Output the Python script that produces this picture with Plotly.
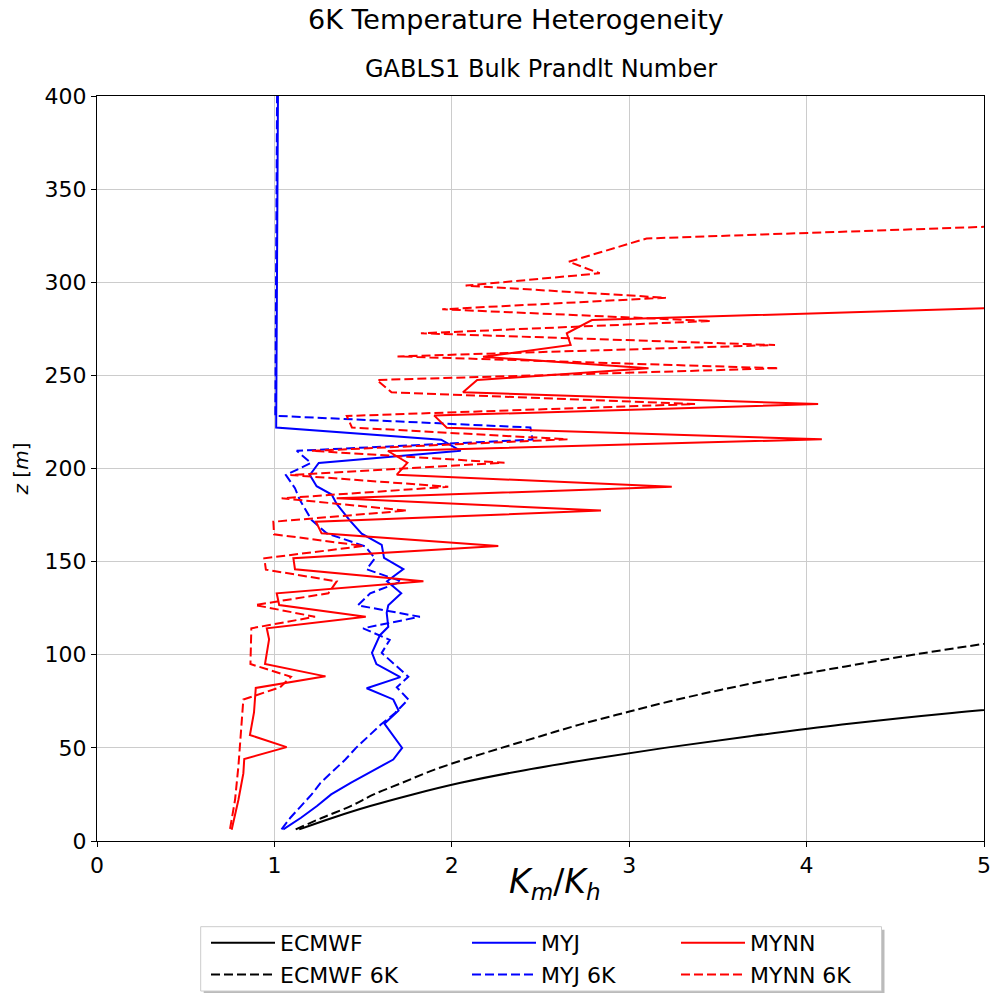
import plotly.graph_objects as go

# ---------------- data ----------------
ecmwf_z = [6.25, 12.5, 18.75, 25, 31.25, 37.5, 43.75, 50, 56.25, 62.5, 68.75, 75]
ecmwf_x = [1.14, 1.33, 1.54, 1.78, 2.05, 2.38, 2.77, 3.2, 3.68, 4.2, 4.82, 5.6]

ecmwf6k_z = [6.25, 12.5, 18.75, 25, 31.25, 37.5, 43.75, 50, 56.25, 62.5, 68.75, 75,
             81.25, 87.5, 93.75, 100, 106.25, 112.5]
ecmwf6k_x = [1.12, 1.27, 1.43, 1.56, 1.72, 1.88, 2.07, 2.28, 2.5, 2.72, 2.97, 3.23,
             3.52, 3.85, 4.22, 4.6, 5.03, 5.5]

myj_z = [6.25, 12.5, 18.75, 25, 31.25, 37.5, 43.75, 50, 63, 70, 76, 82, 88, 95, 101,
         110.5, 115, 122.5, 126.5, 133, 139.5, 146, 152, 159, 162.5, 165, 172, 181,
         186, 190.5, 196.5, 203, 209.5, 215.5, 222, 400]
myj_x = [1.05, 1.15, 1.24, 1.32, 1.43, 1.55, 1.67, 1.72, 1.62, 1.70, 1.67, 1.52, 1.71,
         1.575, 1.55, 1.595, 1.642, 1.633, 1.642, 1.715, 1.635, 1.727, 1.618, 1.605,
         1.539, 1.492, 1.426, 1.351, 1.323, 1.238, 1.2, 1.25, 2.05, 1.94, 1.01, 1.02]

myj6k_z = [6.25, 12.5, 18.75, 25, 31.25, 37.5, 43.75, 50, 56.25, 62.5, 68.75, 76, 82.5,
           88.2, 101, 108, 114.2, 120.4, 126.5, 133, 139.4, 145.9, 151.8, 158.2, 165.2,
           172.3, 183, 189.4, 196.5, 203, 209.5, 215.5, 222, 228.3, 400]
myj6k_x = [1.04, 1.09, 1.15, 1.21, 1.26, 1.33, 1.40, 1.46, 1.53, 1.60, 1.68, 1.755, 1.69,
           1.755, 1.605, 1.65, 1.50, 1.82, 1.47, 1.54, 1.717, 1.52, 1.567, 1.511, 1.295,
           1.21, 1.144, 1.116, 1.065, 1.206, 1.126, 2.455, 2.443, 1.005, 1.015]

mynn_z = [6, 22, 36.3, 44, 50.4, 56.9, 69, 82.2, 88.4, 95, 108.3, 114.2, 120.4, 126.7,
          133, 139.4, 145.9, 151.8, 158.4, 165.2, 171.4, 177.4, 184, 190.2, 196.7, 203.1,
          209.4, 215.7, 221.9, 228.4, 234.6, 240.9, 247.5, 253.8, 260, 266.3, 272.6,
          279.7, 286.2, 292.5]
mynn_x = [0.759, 0.797, 0.825, 0.83, 1.069, 0.862, 0.885, 0.895, 1.288, 0.947, 0.97,
          0.957, 1.515, 1.027, 1.013, 1.84, 1.116, 1.107, 2.262, 1.266, 1.234, 2.841,
          1.351, 3.24, 1.69, 1.75, 1.64, 4.086, 1.972, 1.901, 4.065, 2.063, 2.143, 3.109,
          2.176, 2.67, 2.648, 2.79, 5.05, 9.0]

mynn6k_z = [6.5, 22, 40, 58, 76, 82.5, 88.2, 95, 114.2, 120.4, 126.7, 133, 139.4, 145.7,
            151.8, 158.4, 164.7, 171.4, 177.4, 184, 190.2, 196.5, 203.1, 209.5, 215.7,
            222, 228.2, 234.6, 240.9, 247.5, 253.8, 260.2, 266.3, 272.6, 279.2, 285.5,
            291.7, 298.2, 304.8, 311, 323.5, 329.8, 336]
mynn6k_x = [0.75, 0.778, 0.797, 0.81, 0.825, 1.032, 1.093, 0.865, 0.87, 1.229, 0.891,
            1.304, 1.351, 0.952, 0.943, 1.501, 0.998, 0.994, 1.746, 1.041, 1.98, 1.09,
            2.297, 1.21, 2.652, 1.437, 1.408, 3.371, 1.66, 1.578, 3.843, 1.694, 3.822,
            1.826, 3.459, 1.946, 3.207, 2.078, 2.834, 2.659, 3.098, 5.02, 9.0]

x_ticks = [0, 1, 2, 3, 4, 5]
y_ticks = [0, 50, 100, 150, 200, 250, 300, 350, 400]

# ---------------- figure ----------------
FONT = "DejaVu Sans"
W, H = 992, 993
ML, MR, MT, MB = 97, 8, 96, 152
PW, PH = W - ML - MR, H - MT - MB


def px2paper_x(px):
    return (px - ML) / PW


def px2paper_y(py):
    return (H - MB - py) / PH


DASH = "9px,4px"
series = [
    ("ECMWF", ecmwf_x, ecmwf_z, "black", "solid", "legend", "spline"),
    ("ECMWF 6K", ecmwf6k_x, ecmwf6k_z, "black", DASH, "legend", "spline"),
    ("MYJ", myj_x, myj_z, "blue", "solid", "legend2", "linear"),
    ("MYJ 6K", myj6k_x, myj6k_z, "blue", DASH, "legend2", "linear"),
    ("MYNN", mynn_x, mynn_z, "red", "solid", "legend3", "linear"),
    ("MYNN 6K", mynn6k_x, mynn6k_z, "red", DASH, "legend3", "linear"),
]

fig = go.Figure()
for name, xs, zs, color, dash, leg, shape in series:
    fig.add_trace(go.Scatter(
        x=xs, y=zs, mode="lines", name=name, legend=leg,
        line=dict(color=color, width=2, dash=dash, shape=shape),
    ))

leg_common = dict(
    orientation="v", xanchor="left", yanchor="top",
    bgcolor="rgba(0,0,0,0)", borderwidth=0,
    font=dict(family=FONT, size=22, color="black"),
    itemwidth=64, tracegroupgap=0,
)
leg_y = px2paper_y(922)

fig.update_layout(
    width=W, height=H,
    margin=dict(l=ML, r=MR, t=MT, b=MB, autoexpand=False),
    paper_bgcolor="white", plot_bgcolor="white",
    font=dict(family=FONT, color="black"),
    legend=dict(x=px2paper_x(206), y=leg_y, **leg_common),
    legend2=dict(x=px2paper_x(467), y=leg_y, **leg_common),
    legend3=dict(x=px2paper_x(676), y=leg_y, **leg_common),
    xaxis=dict(
        range=[0, 5], tickvals=x_ticks, ticktext=[str(v) for v in x_ticks],
        ticks="outside", ticklen=5, tickcolor="black", tickwidth=1,
        showline=True, linecolor="black", linewidth=1, mirror=True,
        showgrid=True, gridcolor="#cccccc", gridwidth=1, zeroline=False,
        tickfont=dict(family=FONT, size=22, color="black"),
    ),
    yaxis=dict(
        range=[0, 400], tickvals=y_ticks, ticktext=[str(v) for v in y_ticks],
        ticks="outside", ticklen=5, tickcolor="black", tickwidth=1,
        showline=True, linecolor="black", linewidth=1, mirror=True,
        showgrid=True, gridcolor="#cccccc", gridwidth=1, zeroline=False,
        tickfont=dict(family=FONT, size=22, color="black"),
        title=dict(text="<i>z</i> [<i>m</i>]",
                   font=dict(family=FONT, size=20, color="black"), standoff=10),
    ),
    annotations=[
        dict(text="6K Temperature Heterogeneity", xref="paper", yref="paper",
             x=px2paper_x(516), y=px2paper_y(19), xanchor="center", yanchor="middle",
             showarrow=False, font=dict(family=FONT, size=27, color="black")),
        dict(text="GABLS1 Bulk Prandlt Number", xref="paper", yref="paper",
             x=px2paper_x(540.5), y=px2paper_y(69), xanchor="center", yanchor="middle",
             showarrow=False, font=dict(family=FONT, size=24, color="black")),
        # x-axis label
        dict(text="<i>K<sub>m</sub></i>/<i>K<sub>h</sub></i>", xref="paper", yref="paper",
             x=px2paper_x(555), y=px2paper_y(883), xanchor="center", yanchor="middle",
             showarrow=False, font=dict(family=FONT, size=33, color="black")),
    ],
)

# legend frame with a soft shadow (as in the reference)
bx0, bx1 = px2paper_x(200.7), px2paper_x(881.5)
by0, by1 = px2paper_y(991.0), px2paper_y(926.7)
dx, dy = 3 / PW, 3 / PH
fig.add_shape(type="rect", xref="paper", yref="paper",
              x0=bx0 + dx, x1=bx1 + dx, y0=by0 - dy, y1=by1 - dy,
              fillcolor="rgba(120,120,120,0.5)", line=dict(width=0), layer="above")
fig.add_shape(type="rect", xref="paper", yref="paper",
              x0=bx0, x1=bx1, y0=by0, y1=by1,
              fillcolor="white", line=dict(color="#cccccc", width=1), layer="above")

fig.write_html("out.html")
